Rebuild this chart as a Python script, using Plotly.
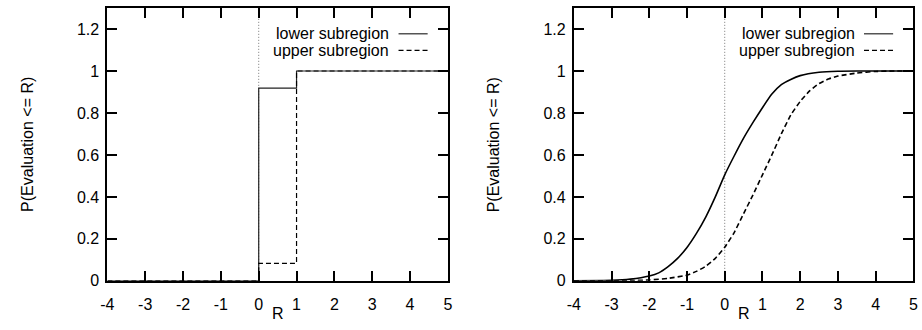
import plotly.graph_objects as go

# ---- data -------------------------------------------------------------
# left panel: step CDFs (hv steps through these points)
step_R = [-4, 0, 1, 5]
step_lower = [0.0, 0.918, 1.0, 1.0]
step_upper = [0.0, 0.083, 1.0, 1.0]

# right panel: smooth CDFs
R_lower = [-4, -3, -2.5, -2, -1.75, -1.5, -1.25, -1, -0.75, -0.5, -0.25, 0,
           0.25, 0.5, 0.75, 1, 1.25, 1.5, 1.75, 2, 2.5, 3, 3.5, 5]
P_lower = [0.0, 0.002, 0.008, 0.023, 0.038, 0.068, 0.107, 0.159, 0.226, 0.305, 0.40, 0.505,
           0.595, 0.68, 0.755, 0.825, 0.89, 0.935, 0.96, 0.978, 0.994, 0.999, 1.0, 1.0]

R_upper = [-4, -2.5, -2, -1.5, -1, -0.75, -0.5, -0.25, 0, 0.25, 0.5, 0.75, 1,
           1.25, 1.5, 1.75, 2, 2.25, 2.5, 2.75, 3, 3.5, 4, 4.5, 5]
P_upper = [0.0, 0.001, 0.004, 0.012, 0.027, 0.045, 0.07, 0.107, 0.16, 0.23, 0.32, 0.41, 0.505,
           0.60, 0.70, 0.79, 0.855, 0.905, 0.94, 0.962, 0.976, 0.99, 0.998, 1.0, 1.0]

x_ticks = [-4, -3, -2, -1, 0, 1, 2, 3, 4, 5]
x_tick_text = ["-4", "-3", "-2", "-1", "0", "1", "2", "3", "4", "5"]
y_ticks = [0, 0.2, 0.4, 0.6, 0.8, 1, 1.2]
y_tick_text = ["0", "0.2", "0.4", "0.6", "0.8", "1", "1.2"]
series_names = ["lower subregion", "upper subregion"]

# ---- styling ----------------------------------------------------------
W, H = 922, 330
FONT = "Liberation Sans, Arial, sans-serif"
FS = 16
STEP_SOLID = dict(color="#222222", width=1.2)
STEP_DASHED = dict(color="black", width=1.2, dash="5px,3px")
CURVE_SOLID = dict(color="black", width=1.6, shape="spline", smoothing=0.5)
CURVE_DASHED = dict(color="black", width=1.6, dash="5px,3px", shape="spline", smoothing=0.5)
KEY_SOLID = dict(color="#555555", width=1.5)
KEY_DASHED = dict(color="black", width=1.3, dash="5px,3px")
DOTTED = dict(color="#777777", width=1, dash="1px,2px")

left_dom = [101.7 / W, 446.7 / W]
right_dom = [574.3 / W, 918.3 / W]
y_dom = [1 - 288.7 / H, 1 - 8.3 / H]

fig = go.Figure()

# zero reference lines (drawn first, beneath the curves)
for xa, ya in (("x", "y"), ("x2", "y2")):
    fig.add_trace(go.Scatter(x=[0, 0], y=[0, 1.3], mode="lines", line=DOTTED,
                             xaxis=xa, yaxis=ya, showlegend=False, hoverinfo="skip"))

fig.add_trace(go.Scatter(x=step_R, y=step_lower, mode="lines", line_shape="hv",
                         line=STEP_SOLID, name=series_names[0], xaxis="x", yaxis="y",
                         showlegend=False))
fig.add_trace(go.Scatter(x=step_R, y=step_upper, mode="lines", line_shape="hv",
                         line=STEP_DASHED, name=series_names[1], xaxis="x", yaxis="y",
                         showlegend=False))
fig.add_trace(go.Scatter(x=R_lower, y=P_lower, mode="lines", line=CURVE_SOLID,
                         name=series_names[0], xaxis="x2", yaxis="y2", showlegend=False))
fig.add_trace(go.Scatter(x=R_upper, y=P_upper, mode="lines", line=CURVE_DASHED,
                         name=series_names[1], xaxis="x2", yaxis="y2", showlegend=False))

axis_common = dict(
    showgrid=False, zeroline=False, showline=True, linecolor="black", linewidth=2,
    mirror="ticks", ticks="inside", ticklen=10, tickwidth=1.5, tickcolor="black",
    tickfont=dict(family=FONT, size=FS, color="black"),
)

fig.update_layout(
    width=W, height=H, margin=dict(l=0, r=0, t=0, b=0),
    paper_bgcolor="white", plot_bgcolor="white",
    xaxis=dict(domain=left_dom, range=[-4, 5], tickvals=x_ticks, ticktext=x_tick_text,
               anchor="y", ticklabelstandoff=8, **axis_common),
    yaxis=dict(domain=y_dom, range=[0, 1.3], tickvals=y_ticks, ticktext=y_tick_text,
               anchor="x", ticklabelstandoff=3, **axis_common),
    xaxis2=dict(domain=right_dom, range=[-4, 5], tickvals=x_ticks, ticktext=x_tick_text,
                anchor="y2", ticklabelstandoff=8, **axis_common),
    yaxis2=dict(domain=y_dom, range=[0, 1.3], tickvals=y_ticks, ticktext=y_tick_text,
                anchor="x2", ticklabelstandoff=3, **axis_common),
)

# axis titles and in-plot key (text right-aligned, sample line to its right)
label_font = dict(family=FONT, size=FS, color="black")
annotations = []
shapes = []
for dom in (left_dom, right_dom):
    cx = (dom[0] + dom[1]) / 2
    annotations.append(dict(text="R", x=cx, y=1 - 322 / H, xref="paper", yref="paper",
                            showarrow=False, font=label_font, xanchor="center", yanchor="middle"))
    annotations.append(dict(text="P(Evaluation <= R)", x=dom[0] - 81 / W, y=(y_dom[0] + y_dom[1]) / 2,
                            xref="paper", yref="paper", textangle=-90, showarrow=False,
                            font=label_font, xanchor="center", yanchor="middle"))
    key_right = dom[1] - 20.5 / W
    for i, (name, style) in enumerate(zip(series_names, (KEY_SOLID, KEY_DASHED))):
        ky = 1 - (34.7 + 17 * i) / H
        annotations.append(dict(text=name, x=key_right - 37 / W, y=ky, xref="paper", yref="paper",
                                showarrow=False, font=label_font, xanchor="right", yanchor="middle"))
        shapes.append(dict(type="line", xref="paper", yref="paper",
                           x0=key_right - 29.5 / W, x1=key_right, y0=ky, y1=ky,
                           line=style))

fig.update_layout(annotations=annotations, shapes=shapes)

fig.write_html("out.html")
